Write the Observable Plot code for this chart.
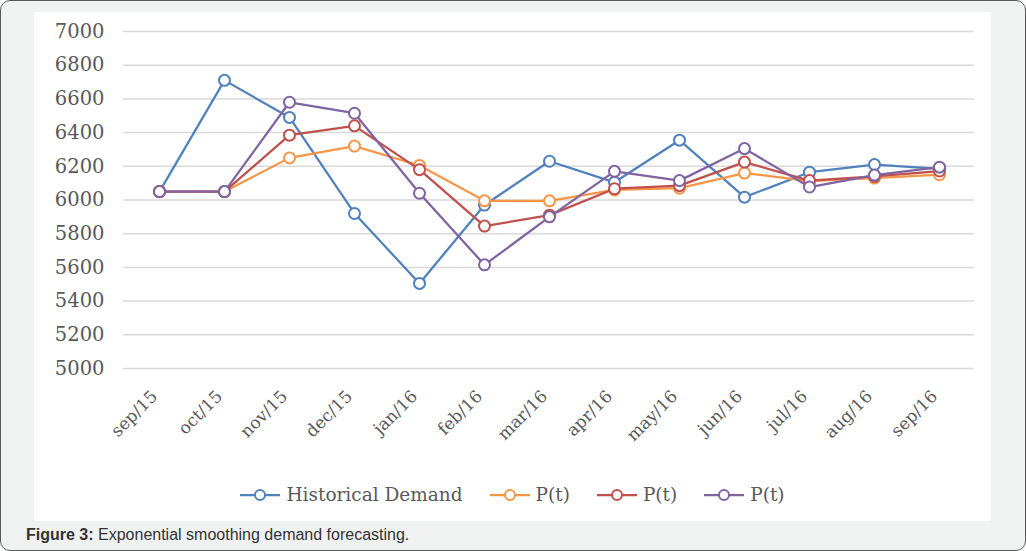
<!DOCTYPE html>
<html>
<head>
<meta charset="utf-8">
<script src="https://cdn.jsdelivr.net/npm/d3@7"></script>
<script src="https://cdn.jsdelivr.net/npm/@observablehq/plot@0.6"></script>
<style>
  html, body { margin: 0; padding: 0; background: #fff; }
  #frame { position: absolute; left: 0; top: 0; width: 1024px; height: 549px; border: 1px solid #5a5a5a; border-radius: 10px; background: #f0f1f1; overflow: hidden; }
  #panel { position: absolute; left: 33px; top: 11px; width: 957px; height: 509px; background: #fff; }
  #chart { position: absolute; left: 0; top: 0; }
  #legend { position: absolute; left: 0; top: 472px; width: 957px; display: flex; justify-content: center; align-items: center; gap: 27px; font-family: "DejaVu Serif", serif; font-size: 18.5px; color: #595959; }
  #legend .item { display: flex; align-items: center; gap: 6px; }
  #caption { position: absolute; left: 25px; top: 525px; font-family: "Liberation Sans", Arial, sans-serif; font-size: 16px; color: #333; }
</style>
</head>
<body>
<div id="frame">
  <div id="panel">
    <div id="chart"></div>
    <div id="legend"></div>
  </div>
  <div id="caption"><b>Figure 3:</b> Exponential smoothing demand forecasting.</div>
</div>
<script>
const months = ["sep/15","oct/15","nov/15","dec/15","jan/16","feb/16","mar/16","apr/16","may/16","jun/16","jul/16","aug/16","sep/16"];
const historical = [6050, 6710, 6490, 5920, 5505, 5970, 6230, 6105, 6355, 6017, 6165, 6210, 6185];
const pt1 = [6050, 6050, 6250, 6320, 6205, 5995, 5995, 6060, 6070, 6160, 6112, 6130, 6150];
const pt2 = [6050, 6050, 6385, 6440, 6180, 5845, 5910, 6067, 6085, 6225, 6115, 6140, 6172];
const pt3 = [6050, 6050, 6580, 6515, 6040, 5615, 5900, 6170, 6115, 6305, 6077, 6148, 6195];
const seriesNames = ["Historical Demand", "P(t)", "P(t)", "P(t)"];
const seriesColors = ["#4F81BD", "#F79646", "#C0504D", "#8064A2"];
const yTicks = [5000, 5200, 5400, 5600, 5800, 6000, 6200, 6400, 6600, 6800, 7000];

const allSeries = [historical, pt1, pt2, pt3];
const rows = [];
allSeries.forEach((vals, s) => vals.forEach((v, i) => rows.push({month: months[i], value: v, s})));

const marks = [
  Plot.ruleY(yTicks, {stroke: "#d9d9d9", strokeWidth: 1.5}),
];
allSeries.forEach((vals, s) => {
  const d = rows.filter(r => r.s === s);
  marks.push(Plot.line(d, {x: "month", y: "value", stroke: seriesColors[s], strokeWidth: 2.25}));
  marks.push(Plot.dot(d, {x: "month", y: "value", r: 5.5, stroke: seriesColors[s], strokeWidth: 2, fill: "#fff"}));
});
marks.push(Plot.axisY({ticks: yTicks, tickSize: 0, tickPadding: 19, tickFormat: d => String(d), fontSize: 19.5}));
marks.push(Plot.axisX({tickSize: 0, tickPadding: 25, dx: -5, tickRotate: -45, fontSize: 17}));

const chart = Plot.plot({
  width: 957,
  height: 460,
  marginLeft: 89,
  marginRight: 17,
  marginTop: 19,
  marginBottom: 104,
  style: {fontFamily: "'DejaVu Serif', serif", color: "#595959", background: "transparent"},
  x: {type: "point", domain: months, padding: 0.5, label: null},
  y: {domain: [5000, 7000], label: null},
  marks
});
document.getElementById("chart").appendChild(chart);

const legend = document.getElementById("legend");
seriesNames.forEach((name, s) => {
  const item = document.createElement("div");
  item.className = "item";
  item.innerHTML = `<svg width="40" height="14"><line x1="0" y1="7" x2="40" y2="7" stroke="${seriesColors[s]}" stroke-width="2.25"/><circle cx="20" cy="7" r="5" fill="#fff" stroke="${seriesColors[s]}" stroke-width="2"/></svg><span>${name}</span>`;
  legend.appendChild(item);
});
</script>
</body>
</html>
